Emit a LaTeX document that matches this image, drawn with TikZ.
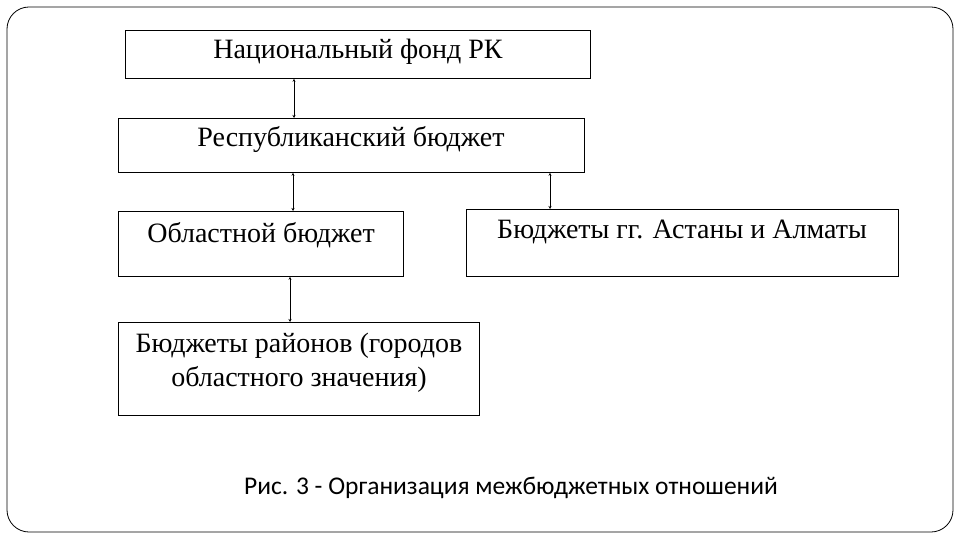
\documentclass[tikz,border=0pt]{standalone}
\usetikzlibrary{arrows.meta}
\usepackage{fontspec}
\setmainfont{Liberation Serif}
\newfontfamily\capfont{Carlito}
\begin{document}
\begin{tikzpicture}[x=1pt,y=-1pt,
  box/.style={draw,line width=0.8pt,anchor=north west,inner sep=0pt},
  txt/.style={font=\fontsize{28}{34}\selectfont,align=center,inner sep=0pt},
  link/.style={line width=0.8pt,<->,>={Stealth[length=3pt,width=3pt]}}]
\useasboundingbox (0,0) rectangle (960,540);
\draw[line width=0.8pt,rounded corners=22pt] (7,7) rectangle (953,532);
\node[box,minimum width=465pt,minimum height=48pt] (b1) at (125,30) {};
\node[box,minimum width=466pt,minimum height=54pt] (b2) at (118,118) {};
\node[box,minimum width=285pt,minimum height=65pt] (b3) at (118,211) {};
\node[box,minimum width=432pt,minimum height=67pt] (b4) at (466,209) {};
\node[box,minimum width=361pt,minimum height=93pt] (b5) at (118,322) {};
\node[txt] (t1) at (358,52) {Национальный фонд РК};
\node[txt] (t2) at (351,140) {Республиканский бюджет};
\node[txt] (t3) at (261,235) {Областной бюджет};
\node[txt] (t4) at (682,232) {Бюджеты гг. Астаны и Алматы};
\node[txt] (t5) at (299,363) {Бюджеты районов (городов\\областного значения)};
\node[font=\capfont\fontsize{25.5}{30}\selectfont] (cap) at (511,488) {Рис. 3 - Организация межбюджетных отношений};
\draw[link] (b1.south -| 294,0) -- (b2.north -| 294,0);
\draw[link] (b2.south -| 293,0) -- (b3.north -| 293,0);
\draw[link] (b2.south -| 550,0) -- (b4.north -| 550,0);
\draw[link] (b3.south -| 290,0) -- (b5.north -| 290,0);
\end{tikzpicture}
\end{document}
